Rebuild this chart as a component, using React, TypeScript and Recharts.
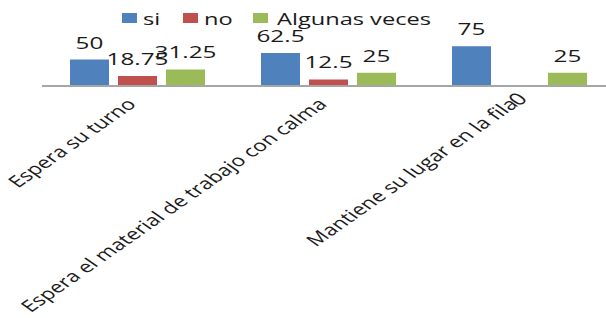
import React from 'react';
import { BarChart, Bar, XAxis, YAxis, Legend, LabelList, ReferenceDot } from 'recharts';

const categories = ['Espera su turno', 'Espera el material de trabajo con calma', 'Mantiene su lugar en la fila'];
const si = [50, 62.5, 75];
const no = [18.75, 12.5, 0];
const algunas = [31.25, 25, 25];

const seriesNames = ['si', 'no', 'Algunas veces'];
const colors = ['#4f81bd', '#c0504d', '#9bbb59'];

const data = categories.map((c, i) => ({ name: c, si: si[i], no: no[i], algunas: algunas[i] }));

const FONT = '"Open Sans", "Liberation Sans", sans-serif';
const SX = 1.43; // the reference picture is stretched sideways

const ValueLabel = (props: any) => {
  const { x, y, width, value } = props;
  const cx = x + width / 2;
  return (
    <text transform={`translate(${cx},${y - 11}) scale(${SX},1)`} textAnchor="middle" fontSize={17} fill="#1a1a1a" fontFamily={FONT}>
      {value}
    </text>
  );
};

// zero-height bars get no label from the Bar, so draw the "0" at the axis
const ZeroLabel = (props: any) => {
  const { cx, cy } = props;
  return (
    <text transform={`translate(${cx - 2},${cy + 13}) scale(${SX},1) rotate(-45)`} textAnchor="middle" dy="0.36em"
      fontSize={17} fill="#1a1a1a" fontFamily={FONT}>
      0
    </text>
  );
};

const CategoryTick = (props: any) => {
  const { x, y, payload } = props;
  return (
    <text transform={`translate(${x - 12},${y + 3}) scale(${SX},1) rotate(-45)`} textAnchor="end" dy="0.72em"
      fontSize={16} fill="#1a1a1a" fontFamily={FONT}>
      {payload.value}
    </text>
  );
};

const LegendContent = () => (
  <div style={{ position: 'relative', height: 24, fontFamily: FONT, fontSize: 16.5, color: '#1a1a1a' }}>
    {seriesNames.map((n, i) => {
      const left = [122, 183, 253][i];
      return (
        <div key={n} style={{ position: 'absolute', left, top: 0, height: 24, display: 'flex', alignItems: 'center', whiteSpace: 'nowrap' }}>
          <span style={{ display: 'inline-block', width: 15, height: 10, background: colors[i], marginRight: i === 2 ? 9 : 6 }} />
          <span style={{ display: 'inline-block', transform: `scaleX(${SX})`, transformOrigin: 'left center' }}>{n}</span>
        </div>
      );
    })}
  </div>
);

export default function App() {
  return (
    <div style={{ position: 'absolute', left: 0, top: 0, width: 606, height: 318, overflow: 'hidden', background: '#fff' }}>
      <BarChart width={622} height={318} data={data} margin={{ top: 5, left: 42, right: 7, bottom: 0 }}
        barGap={9} barCategoryGap={28}>
        <Legend verticalAlign="top" height={28} content={<LegendContent />} wrapperStyle={{ left: 0, top: 6, width: 606 }} />
        <YAxis hide domain={[0, 100]} />
        <XAxis dataKey="name" interval={0} height={232} tickLine={false} tick={<CategoryTick />}
          axisLine={{ stroke: '#a6a6a6', strokeWidth: 2 }} />
        <Bar dataKey="si" name="si" fill={colors[0]} barSize={39} isAnimationActive={false}>
          <LabelList dataKey="si" content={<ValueLabel />} />
        </Bar>
        <Bar dataKey="no" name="no" fill={colors[1]} barSize={39} isAnimationActive={false}>
          <LabelList dataKey="no" content={<ValueLabel />} />
        </Bar>
        <Bar dataKey="algunas" name="Algunas veces" fill={colors[2]} barSize={39} isAnimationActive={false}>
          <LabelList dataKey="algunas" content={<ValueLabel />} />
        </Bar>
        {categories.map((c, i) => no[i] === 0 ? (
          <ReferenceDot key={c} x={c} y={0} r={0} ifOverflow="visible" shape={<ZeroLabel />} />
        ) : null)}
      </BarChart>
    </div>
  );
}
